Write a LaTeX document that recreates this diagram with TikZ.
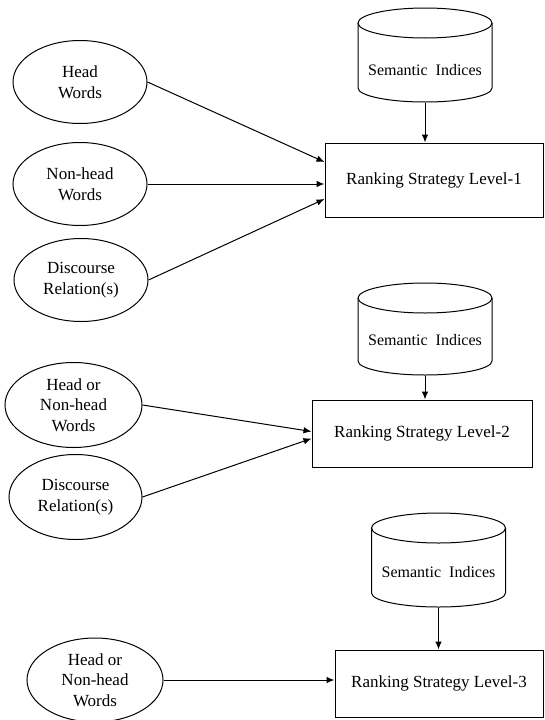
\documentclass[tikz,border=0pt]{standalone}
\usepackage{fontspec}
\setmainfont{Liberation Serif}
\usetikzlibrary{shapes.geometric,arrows.meta,calc}
\newcommand\cylout[3]{%
  \draw (#1-67,#2+15) -- (#1-67,#3-14) arc[start angle=180,end angle=0,x radius=67,y radius=14] -- (#1+67,#2+15);
  \draw (#1,#2+15) ellipse[x radius=67,y radius=15];
}
\begin{document}
\begin{tikzpicture}[x=1pt,y=-1pt,
  font=\fontsize{17}{20.5}\selectfont,
  line width=1pt,
  oval/.style={ellipse,draw,inner sep=0pt,align=center,minimum width=134pt,minimum height=83pt},
  rankbox/.style={rectangle,draw,inner sep=0pt},
  cylbody/.style={rectangle,draw=none,inner sep=0pt,minimum width=134pt},
  cyltext/.style={font=\fontsize{16}{20}\selectfont},
  link/.style={-{Latex[length=8pt,width=6.5pt]}}
]
\useasboundingbox (0,0) rectangle (544,720);

% ---------- Level 1 ----------
\node[oval] (hw) at (80,82) {Head\\Words};
\node[oval] (nh) at (80,184) {Non-head\\Words};
\node[oval] (dr1) at (81,280) {Discourse\\Relation(s)};
\node[rankbox,minimum width=218pt,minimum height=74pt] (b1) at (434,180) {Ranking Strategy Level-1};
\cylout{425}{8}{102}
\node[cylbody,minimum height=94pt] (c1) at (425,55) {};
\node[cyltext] (s1) at (425,70) {Semantic\ \ Indices};
\draw[link] (hw.east) -- ([yshift=18pt]b1.west);
\draw[link] (nh.east) -- (nh.east -| b1.west);
\draw[link] (dr1.east) -- ([yshift=-19pt]b1.west);
\draw[link] (c1.south) -- (c1.south |- b1.north);

% ---------- Level 2 ----------
\node[oval,minimum width=137pt,minimum height=85pt] (hn2) at (73.5,405) {Head or\\Non-head\\Words};
\node[oval,minimum width=133pt,minimum height=85pt] (dr2) at (75.5,497) {Discourse\\Relation(s)};
\node[rankbox,minimum width=220pt,minimum height=67pt] (b2) at (422,433.5) {Ranking Strategy Level-2};
\cylout{425}{283}{375}
\node[cylbody,minimum height=92pt] (c2) at (425,329) {};
\node[cyltext] (s2) at (425,340) {Semantic\ \ Indices};
\draw[link] (hn2.east) -- ([yshift=2pt]b2.west);
\draw[link] (dr2.east) -- ([yshift=-5pt]b2.west);
\draw[link] (c2.south) -- (c2.south |- b2.north);

% ---------- Level 3 ----------
\node[oval,minimum width=136pt,minimum height=84pt] (hn3) at (95,680) {Head or\\Non-head\\Words};
\node[rankbox,minimum width=208pt,minimum height=67pt] (b3) at (439,683.5) {Ranking Strategy Level-3};
\cylout{438.5}{513}{607}
\node[cylbody,minimum height=94pt] (c3) at (438.5,560) {};
\node[cyltext] (s3) at (438.5,572) {Semantic\ \ Indices};
\draw[link] (hn3.east) -- (hn3.east -| b3.west);
\draw[link] (c3.south) -- (c3.south |- b3.north);
\end{tikzpicture}
\end{document}
